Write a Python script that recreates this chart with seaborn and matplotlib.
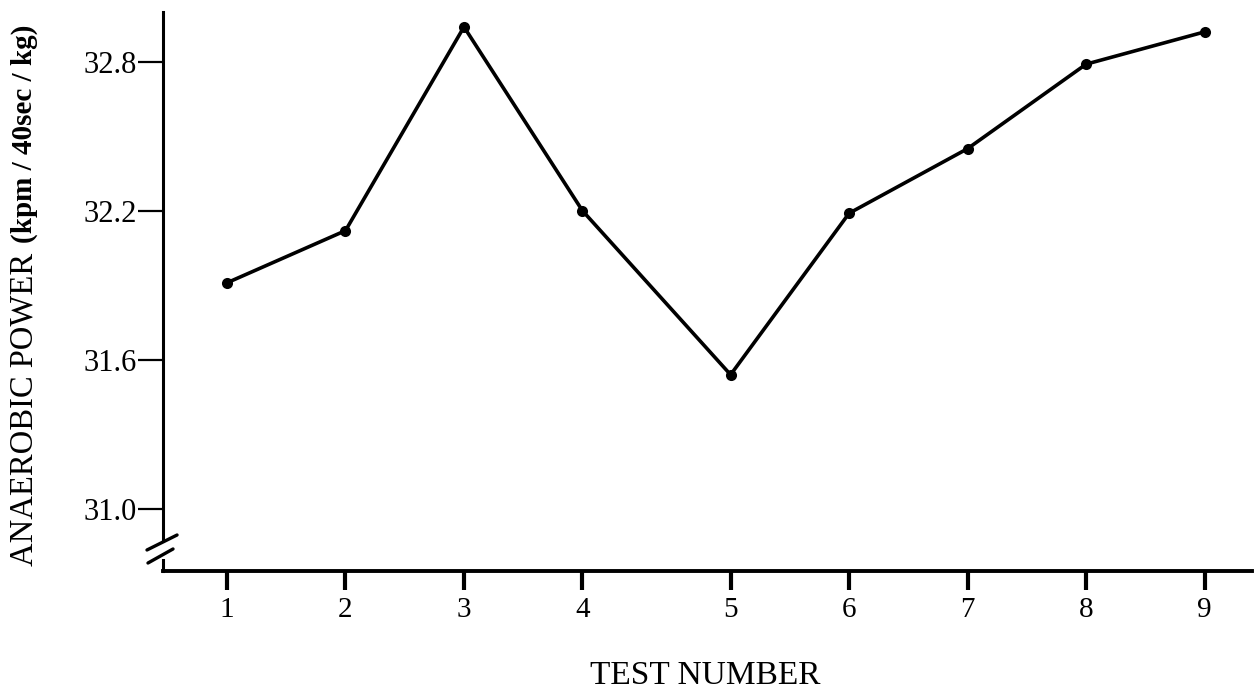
import matplotlib
matplotlib.use("Agg")
import matplotlib.pyplot as plt
import seaborn as sns
from matplotlib.lines import Line2D
from matplotlib.patches import Rectangle

# Test sessions and mean anaerobic power per session
test_labels = ["1", "2", "3", "4", "5", "6", "7", "8", "9"]
test_pos = [1, 2, 3, 4, 5.25, 6.25, 7.25, 8.25, 9.25]
power = [31.91, 32.12, 32.94, 32.20, 31.54, 32.19, 32.45, 32.79, 32.92]
y_ticks = [31.0, 31.6, 32.2, 32.8]

sns.set_style("ticks")
plt.rcParams["font.family"] = ["Liberation Serif", "DejaVu Serif"]
plt.rcParams.update({"text.color": "black", "xtick.color": "black",
                     "ytick.color": "black", "axes.labelcolor": "black"})

fig = plt.figure(figsize=(12.54, 6.94), dpi=100)
ax = fig.add_axes([163 / 1254, 1 - 571 / 694, 1089 / 1254, 559 / 694])

sns.lineplot(x=test_pos, y=power, ax=ax, color="black", linewidth=2.6,
             marker="o", markersize=8, markeredgewidth=0, markerfacecolor="black")

ax.set_xlim(0.46, 9.65)
ax.set_ylim(30.75, 33.0)

ax.set_xticks(test_pos)
ax.set_xticklabels(test_labels, fontsize=21)
ax.set_yticks(y_ticks)
ax.set_yticklabels([f"{v:.1f}" for v in y_ticks], fontsize=22)

ax.tick_params(axis="x", direction="out", length=14, width=3, pad=5, color="black")
ax.tick_params(axis="y", direction="out", length=18, width=1.6, pad=1, color="black")

for side in ("top", "right"):
    ax.spines[side].set_visible(False)
ax.spines["bottom"].set_linewidth(2.8)
ax.spines["left"].set_linewidth(2.2)
ax.spines["bottom"].set_color("black")
ax.spines["left"].set_color("black")

# Axis break on the y axis near the origin
ax.add_patch(Rectangle((-0.006, 0.022), 0.012, 0.03, transform=ax.transAxes,
                       facecolor="white", edgecolor="none", clip_on=False, zorder=5))
for (x0, y0), (x1, y1) in [((-0.0147, 0.0376), (0.0129, 0.0644)),
                           ((-0.0138, 0.0143), (0.0092, 0.0394))]:
    ax.add_line(Line2D([x0, x1], [y0, y1], transform=ax.transAxes, color="black",
                       linewidth=2.4, clip_on=False, zorder=6))

ax.set_xlabel("")
ax.set_ylabel("")

fig.text(705 / 1254, 1 - 676 / 694, "TEST NUMBER", fontsize=24,
         ha="center", va="center")
fig.text(24 / 1254, 1 - 566 / 694, "ANAEROBIC POWER", fontsize=23.5,
         rotation=90, ha="center", va="bottom")
fig.text(24 / 1254, 1 - 243 / 694, "(kpm / 40sec / kg)", fontsize=21,
         fontweight="bold", rotation=90, ha="center", va="bottom")

fig.savefig("out.png", dpi=100, facecolor="white")
